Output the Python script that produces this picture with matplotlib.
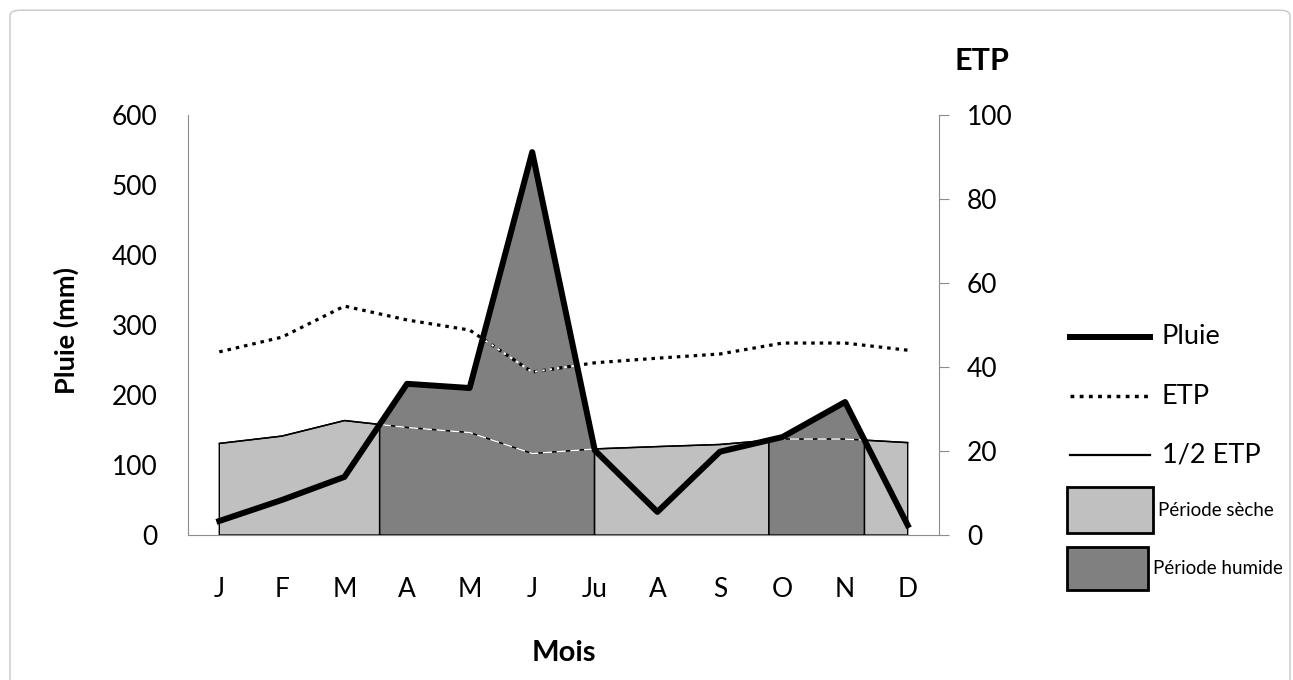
import numpy as np
import matplotlib
matplotlib.use("Agg")
import matplotlib.pyplot as plt
from matplotlib.lines import Line2D
from matplotlib.patches import Rectangle, FancyBboxPatch
from matplotlib.path import Path

# data
mois = ["J", "F", "M", "A", "M", "J", "Ju", "A", "S", "O", "N", "D"]
pluie = [20, 50, 83, 216, 210, 547, 121, 33, 119, 140, 190, 14]        # mm
etp = [43.6, 47.1, 54.5, 51.2, 48.8, 38.8, 41.0, 42.1, 43.1, 45.7, 45.7, 44.0]

PLUIE_MAX = 600
ETP_MAX = 100

GRIS_CLAIR = "#c0c0c0"
GRIS_FONCE = "#808080"
AXE = "#8c8c8c"
POINTS = (1.1, 1.55)

plt.rcParams['font.family'] = ['Lato', 'DejaVu Sans']

W, H = 1293, 680
fig = plt.figure(figsize=(W / 100, H / 100), dpi=100)
fx = lambda px: px / W
fy = lambda py: 1 - py / H

ax = fig.add_axes([fx(188), fy(535), (939 - 188) / W, (535 - 115) / H])
ax2 = ax.twinx()

x = np.arange(len(mois))
pluie = np.array(pluie, float)
# ETP is read on the right axis, bring it to the left (mm) scale
etp_mm = np.array(etp) * PLUIE_MAX / ETP_MAX
demi_mm = etp_mm / 2

# areas : dry where pluie < 1/2 ETP, wet otherwise (fine grid for the crossings)
xs = np.linspace(0, len(mois) - 1, 4000)
p = np.interp(xs, x, pluie)
h = np.interp(xs, x, demi_mm)
ax.fill_between(xs, 0, h, where=p < h, facecolor=GRIS_CLAIR, edgecolor="black", lw=1, zorder=1)
humide = ax.fill_between(xs, 0, p, where=p >= h, facecolor=GRIS_FONCE, edgecolor="black", lw=1, zorder=1)

ax.plot(x, etp_mm, color="black", lw=2.3, dashes=POINTS, zorder=2)
ax.plot(x, demi_mm, color="black", lw=1.1, zorder=2)

# inside the wet area the lines show up white
clip = Path.make_compound_path(*humide.get_paths())
l1, = ax.plot(x, etp_mm, color="white", lw=1.4, dashes=(1.2, 2.6), zorder=3)
l2, = ax.plot(x, demi_mm, color="white", lw=1.1, dashes=(6, 3), zorder=3)
for l in (l1, l2):
    l.set_clip_path(clip, ax.transData)

ax.plot(x, pluie, color="black", lw=4.3, zorder=4)

ax.set_xlim(-0.5, len(mois) - 0.5)
ax.set_ylim(0, PLUIE_MAX)
ax2.set_ylim(0, ETP_MAX)
ax.set_yticks(range(0, PLUIE_MAX + 1, 100))
ax2.set_yticks(range(0, ETP_MAX + 1, 20))
ax.set_xticks(x, mois)

for s in ("top", "right"):
    ax.spines[s].set_visible(False)
for s in ("top", "left", "bottom"):
    ax2.spines[s].set_visible(False)
ax.spines["left"].set_color(AXE)
ax.spines["bottom"].set_color(AXE)
ax2.spines["right"].set_color(AXE)
ax.spines["bottom"].set_zorder(5)

ax.tick_params(axis="y", length=0, pad=22, labelsize=19)
ax.tick_params(axis="x", length=0, pad=30, labelsize=19)
ax2.tick_params(axis="y", length=7, color=AXE, direction="out", pad=13, labelsize=19)

# legend, drawn by hand at the reference positions
lignes = [("Pluie", 337, dict(lw=4.3)),
          ("ETP", 396, dict(lw=2.5, dashes=POINTS)),
          ("1/2 ETP", 455, dict(lw=1.6))]
for nom, py, st in lignes:
    fig.add_artist(Line2D([fx(1070), fx(1150)], [fy(py), fy(py)], color="black",
                          transform=fig.transFigure, **st))
    fig.text(fx(1162), fy(py), nom, ha="left", va="center", fontsize=19.5)

cases = [("Période sèche", 487, 533, 1153, GRIS_CLAIR),
         ("Période humide", 547, 590, 1148, GRIS_FONCE)]
for nom, top, bas, droite, c in cases:
    fig.add_artist(Rectangle((fx(1067), fy(bas)), (droite - 1067) / W, (bas - top) / H,
                             facecolor=c, edgecolor="black", lw=2, transform=fig.transFigure))
    fig.text(fx(droite + 5), fy((top + bas) / 2), nom, ha="left", va="center", fontsize=13.5)

fig.text(fx(982), fy(61), "ETP", ha="center", va="center", fontsize=22, weight="bold")
fig.text(fx(564), fy(653), "Mois", ha="center", va="center", fontsize=21, weight="bold")
fig.text(fx(66), fy(330), "Pluie (mm)", ha="center", va="center", rotation=90,
         fontsize=19.5, weight="bold")

fig.patches.append(FancyBboxPatch((fx(10), -0.05), 1280 / W, 1.035,
                                  boxstyle="round,pad=0,rounding_size=0.008",
                                  transform=fig.transFigure, fill=False, ec="#c8c8c8", lw=1))

fig.savefig("out.png", dpi=100)
